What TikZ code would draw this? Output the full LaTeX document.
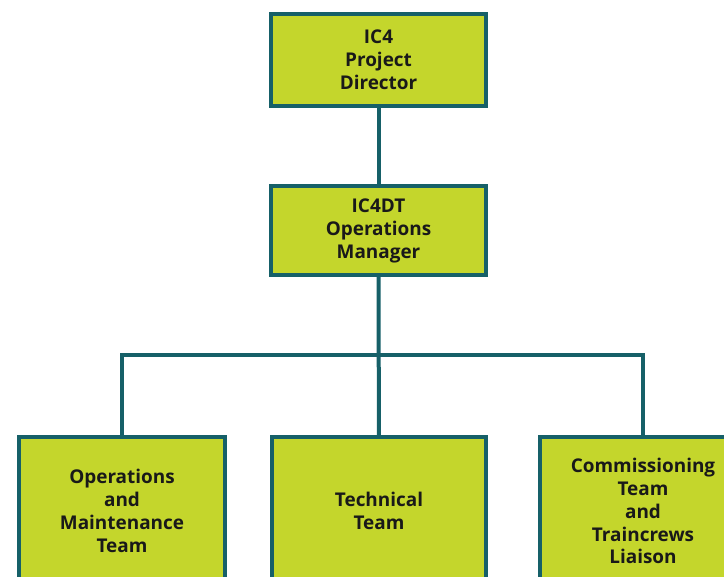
\documentclass[tikz,border=0pt]{standalone}
\usepackage{fontspec}
\setmainfont{Open Sans}
\definecolor{boxfill}{RGB}{196,214,44}
\definecolor{boxline}{RGB}{22,96,104}

\begin{document}
\begin{tikzpicture}[x=0.75pt,y=-0.75pt,
  orgbox/.style={draw=boxline,fill=boxfill,line width=3pt,align=center,
    font=\fontsize{14.2}{17.2}\selectfont\bfseries,text=black!90,
    minimum width=161pt,minimum height=69pt,inner sep=0pt},
  teambox/.style={orgbox,minimum height=111pt},
  orgline/.style={draw=boxline,line width=3pt}]
  % 固定画布大小
  \useasboundingbox (0,0) rectangle (724,577);
  % 上两层方框
  \node[orgbox] (director) at (378.5,60) {IC4\\Project\\Director};
  \node[orgbox,minimum height=67pt] (manager) at (378.5,230.5) {IC4DT\\Operations\\Manager};
  % 下层三个小组
  \node[teambox,minimum width=154.5pt] (ops) at (122,511) {Operations\\and\\Maintenance\\Team};
  \node[teambox,minimum width=160.5pt] (tech) at (379,511) {Technical\\Team};
  \node[teambox,minimum width=154.5pt] (liaison) at (643,511) {Commissioning\\Team\\and\\Traincrews\\Liaison};
  % 连线
  \coordinate (bus) at (378.5,355);
  \draw[orgline] (director) -- (manager);
  \draw[orgline] (manager) -- (tech);
  \draw[orgline] (ops.north) |- (bus) -| (liaison.north);
\end{tikzpicture}
\end{document}
